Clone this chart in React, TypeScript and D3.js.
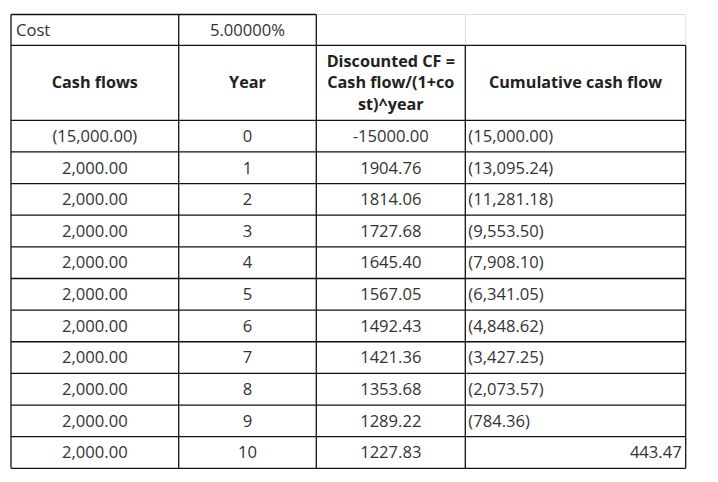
import React from "react";
import * as d3 from "d3";

const costLabel = "Cost";
const costValue = "5.00000%";
const headers = ["Cash flows", "Year", "Discounted CF =\nCash flow/(1+co\nst)^year", "Cumulative cash flow"];
const cashFlows = ["(15,000.00)", "2,000.00", "2,000.00", "2,000.00", "2,000.00", "2,000.00", "2,000.00", "2,000.00", "2,000.00", "2,000.00", "2,000.00"];
const years = ["0", "1", "2", "3", "4", "5", "6", "7", "8", "9", "10"];
const discounted = ["-15000.00", "1904.76", "1814.06", "1727.68", "1645.40", "1567.05", "1492.43", "1421.36", "1353.68", "1289.22", "1227.83"];
const cumulative = ["(15,000.00)", "(13,095.24)", "(11,281.18)", "(9,553.50)", "(7,908.10)", "(6,341.05)", "(4,848.62)", "(3,427.25)", "(2,073.57)", "(784.36)", "443.47"];

const W = 718, H = 482;
const colX = [11, 178.7, 316.3, 465.3, 685.7];
const topY = 14.5, costBottom = 45.3, headBottom = 120.3, tableBottom = 468.3;
const FONT = "'Open Sans', Lato, sans-serif";
const TXT = "#333";
const BODY = 16.6;
const HEAD = 16.2;

export default function App() {
  const y = d3.scaleLinear().domain([0, years.length]).range([headBottom, tableBottom]);
  const cols = [cashFlows, years, discounted];
  const rows = d3.range(years.length);
  const black = "#111";
  const gray = "#dddddd";
  return (
    <svg width={W} height={H} style={{ position: "absolute", left: 0, top: 0, background: "#fff" }} fontFamily={FONT}>
      <rect x={0} y={0} width={W} height={H} fill="#fff" />
      <line x1={colX[2]} x2={colX[4]} y1={topY} y2={topY} stroke={gray} strokeWidth={1} />
      <line x1={colX[3]} x2={colX[3]} y1={topY} y2={costBottom} stroke={gray} strokeWidth={1} />
      <line x1={colX[4]} x2={colX[4]} y1={topY} y2={costBottom} stroke={gray} strokeWidth={1} />
      <line x1={colX[0]} x2={colX[2]} y1={topY} y2={topY} stroke={black} strokeWidth={1.3} />
      <line x1={colX[0]} x2={colX[0]} y1={topY} y2={tableBottom} stroke={black} strokeWidth={1.3} />
      <line x1={colX[1]} x2={colX[1]} y1={topY} y2={tableBottom} stroke={black} strokeWidth={1.3} />
      <line x1={colX[2]} x2={colX[2]} y1={topY} y2={tableBottom} stroke={black} strokeWidth={1.3} />
      <line x1={colX[3]} x2={colX[3]} y1={costBottom} y2={tableBottom} stroke={black} strokeWidth={1.3} />
      <line x1={colX[4]} x2={colX[4]} y1={costBottom} y2={tableBottom} stroke={black} strokeWidth={1.3} />
      <line x1={colX[0]} x2={colX[4]} y1={costBottom} y2={costBottom} stroke={black} strokeWidth={1.3} />
      {rows.map((i) => (
        <line key={"h" + i} x1={colX[0]} x2={colX[4]} y1={y(i)} y2={y(i)} stroke={black} strokeWidth={1.3} />
      ))}
      <line x1={colX[0]} x2={colX[4]} y1={tableBottom} y2={tableBottom} stroke={black} strokeWidth={1.3} />

      <text x={colX[0] + 5} y={(topY + costBottom) / 2} dy="0.35em" fontSize={BODY} fill={TXT}>{costLabel}</text>
      <text x={(colX[1] + colX[2]) / 2} y={(topY + costBottom) / 2} dy="0.35em" fontSize={BODY} fill={TXT} textAnchor="middle">{costValue}</text>

      {headers.map((h, c) => {
        const lines = h.split("\n");
        const cx = (colX[c] + colX[c + 1]) / 2;
        const cy = (costBottom + headBottom) / 2;
        const lh = 21.7;
        return (
          <text key={"hd" + c} x={cx} textAnchor="middle" fontSize={HEAD} fontWeight="bold" fill="#222">
            {lines.map((l, k) => (
              <tspan key={k} x={cx} y={cy + (k - (lines.length - 1) / 2) * lh} dy="0.35em">{l}</tspan>
            ))}
          </text>
        );
      })}

      {rows.map((i) => {
        const cy = (y(i) + y(i + 1)) / 2;
        return (
          <g key={"r" + i} fontSize={BODY} fill={TXT}>
            {cols.map((arr, c) => (
              <text key={c} x={(colX[c] + colX[c + 1]) / 2} y={cy} dy="0.35em" textAnchor="middle">{arr[i]}</text>
            ))}
            {cumulative[i].startsWith("(") ? (
              <text x={colX[3] + 3} y={cy} dy="0.35em">{cumulative[i]}</text>
            ) : (
              <text x={colX[4] - 4} y={cy} dy="0.35em" textAnchor="end">{cumulative[i]}</text>
            )}
          </g>
        );
      })}
    </svg>
  );
}
